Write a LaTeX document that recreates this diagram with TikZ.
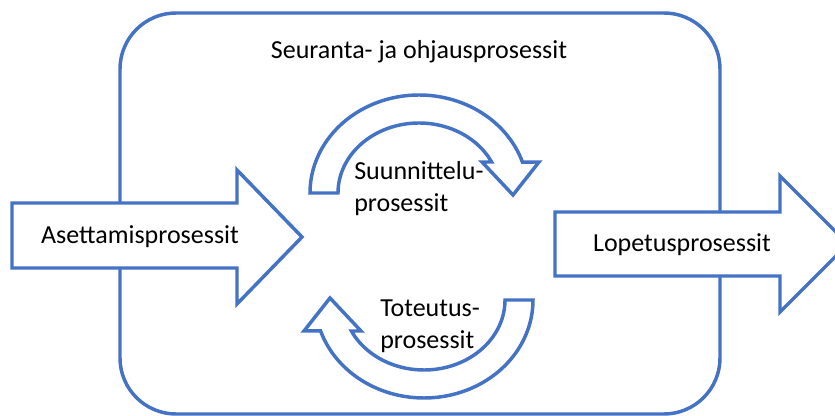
\documentclass[tikz,border=0pt]{standalone}
\usepackage{fontspec}
\setmainfont{Carlito}
\definecolor{obl}{HTML}{4472C4}
\begin{document}
\begin{tikzpicture}[x=0.75pt,y=-0.75pt,
  shp/.style={draw=obl, line width=2.6pt, fill=white, line join=miter},
  lbl/.style={font=\fontsize{19.5}{24}\selectfont, text=black, inner sep=0pt}]
\useasboundingbox (0,0) rectangle (835,416);
\clip (0,0) rectangle (835,416);
% outer box
\draw[shp, rounded corners=42pt] (120,13) rectangle (720,414);
% input arrow
\draw[shp] (12,203) -- (237,203) -- (237,170) -- (302,237) -- (237,304) -- (237,268) -- (12,268) -- cycle;
% output arrow
\draw[shp] (555,212) -- (780,212) -- (780,176) -- (848,244) -- (780,312) -- (780,276) -- (555,276) -- cycle;
% upper circular arrow
\draw[shp] plot[domain=180:18.4,samples=80] ({419+109*cos(\x)},{193-98*sin(\x)})
  -- (539,162) -- (513,195) -- (482,162)
  -- plot[domain=26.3:180,samples=80] ({419+81*cos(\x)},{193-70*sin(\x)}) -- cycle;
% lower circular arrow
\begin{scope}[rotate around={180:(421.5,246.5)}]
\draw[shp] plot[domain=180:18.4,samples=80] ({419+109*cos(\x)},{193-98*sin(\x)})
  -- (539,162) -- (513,195) -- (482,162)
  -- plot[domain=26.3:180,samples=80] ({419+81*cos(\x)},{193-70*sin(\x)}) -- cycle;
\end{scope}
% labels
\node[lbl] (title) at (419,52) {Seuranta- ja ohjausprosessit};
\node[lbl] (aset) at (140,237) {Asettamisprosessit};
\node[lbl] (lop) at (682,245) {Lopetusprosessit};
\node[lbl, align=left, anchor=north west] (suun) at (354,161) {Suunnittelu-\\prosessit};
\node[lbl, align=left, anchor=north west] (tot) at (380,300) {Toteutus-\\prosessit};
\end{tikzpicture}
\end{document}
